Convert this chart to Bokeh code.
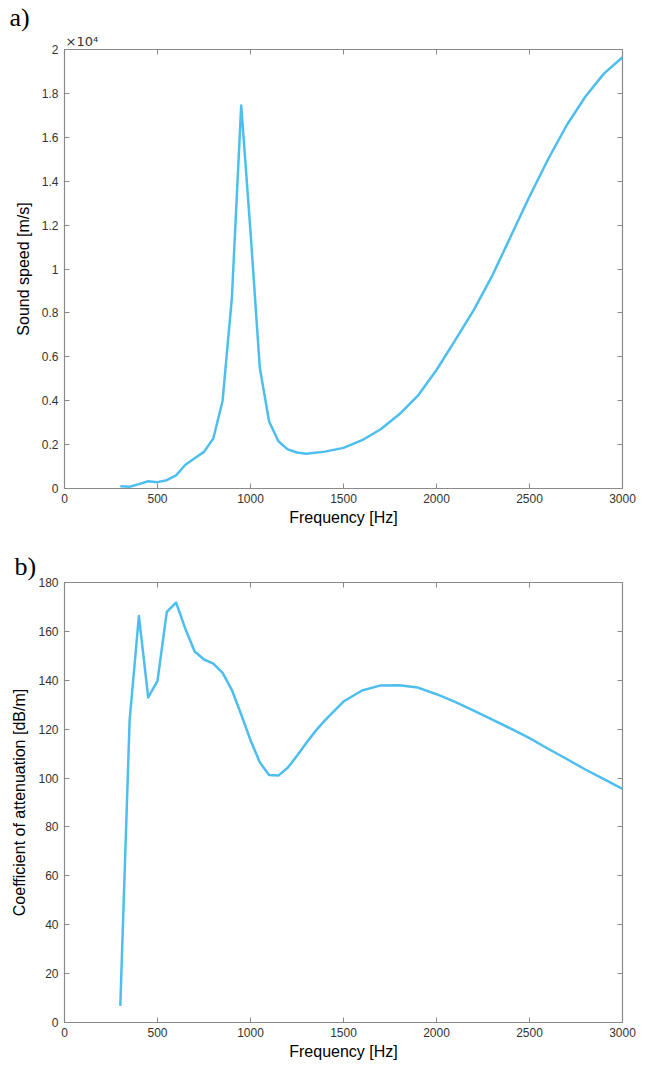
from bokeh.plotting import figure
from bokeh.models import Range1d, LinearAxis, FixedTicker, Title
from bokeh.layouts import column
from bokeh.embed import file_html
from bokeh.resources import INLINE

# ---- data ----
freq_a = [300, 350, 400, 450, 500, 550, 600, 650, 700, 750, 800, 850, 900, 950,
          1000, 1050, 1100, 1150, 1200, 1250, 1300, 1400, 1500, 1600, 1700, 1800,
          1900, 2000, 2100, 2200, 2300, 2400, 2500, 2600, 2700, 2800, 2900, 3000]
speed_a = [100, 80, 200, 330, 290, 380, 600, 1080, 1380, 1670, 2280, 4000, 8700, 17450,
           11700, 5500, 3050, 2150, 1780, 1640, 1580, 1680, 1850, 2200, 2700, 3380,
           4230, 5400, 6750, 8130, 9700, 11500, 13300, 15000, 16550, 17850, 18900, 19650]

freq_b = [300, 350, 400, 450, 500, 550, 600, 650, 700, 750, 800, 850, 900, 950,
          1000, 1050, 1100, 1150, 1200, 1250, 1300, 1350, 1400, 1500, 1600, 1700, 1800,
          1900, 2000, 2100, 2200, 2300, 2400, 2500, 2600, 2700, 2800, 2900, 3000]
atten_b = [6.8, 123.5, 166.3, 133, 139.8, 168, 171.8, 161, 151.8, 148.5, 146.8, 143, 136, 126,
           115.5, 106.5, 101.2, 101, 104.2, 109.1, 114.3, 119.3, 123.6, 131.3, 135.8, 137.9, 138,
           137, 134.3, 131.2, 127.6, 123.9, 120.2, 116.3, 112, 107.8, 103.5, 99.6, 95.6]

x_ticks = [0, 500, 1000, 1500, 2000, 2500, 3000]
speed_ticks = [0, 2000, 4000, 6000, 8000, 10000, 12000, 14000, 16000, 18000, 20000]
speed_tick_labels = ["0", "0.2", "0.4", "0.6", "0.8", "1", "1.2", "1.4", "1.6", "1.8", "2"]
atten_ticks = [0, 20, 40, 60, 80, 100, 120, 140, 160, 180]

LINE = "#4DBEEE"
AX = "#8a8a8a"
TXT = "#333333"
FONT = "Liberation Sans"


def style(p, xt, yt, ylabel, overrides=None):
    p.outline_line_color = AX
    p.outline_line_width = 1.2
    p.xgrid.visible = False
    p.ygrid.visible = False
    p.add_layout(LinearAxis(), "above")
    p.add_layout(LinearAxis(), "right")
    for ax in p.xaxis:
        ax.ticker = FixedTicker(ticks=xt)
    for ax in p.yaxis:
        ax.ticker = FixedTicker(ticks=yt)
    for ax in p.axis:
        ax.axis_line_color = None
        ax.major_tick_in = 5
        ax.major_tick_out = 0
        ax.major_tick_line_color = AX
        ax.major_tick_line_width = 1
        ax.minor_tick_line_color = None
        ax.major_label_text_font = FONT
        ax.major_label_text_font_size = "12px"
        ax.major_label_text_color = TXT
        ax.major_label_standoff = 6
    for ax in (p.above[0], p.right[0]):
        ax.major_label_text_font_size = "0px"
        ax.major_label_text_color = None
        ax.major_label_standoff = 0
    xb = p.below[0]
    xb.axis_label = "Frequency [Hz]"
    xb.axis_label_text_font = FONT
    xb.axis_label_text_font_style = "normal"
    xb.axis_label_text_font_size = "16px"
    xb.axis_label_text_color = "#000000"
    xb.axis_label_standoff = 3
    xb.major_label_standoff = 5
    yl = p.left[0]
    yl.axis_label = ylabel
    yl.axis_label_text_font = FONT
    yl.axis_label_text_font_style = "normal"
    yl.axis_label_text_font_size = "16px"
    yl.axis_label_text_color = "#000000"
    yl.axis_label_standoff = 7
    if overrides:
        yl.major_label_overrides = overrides


p1 = figure(width=651, height=543, output_backend="svg", toolbar_location=None,
            x_range=Range1d(0, 3000), y_range=Range1d(0, 20000),
            min_border_left=64, min_border_right=29, min_border_top=49, min_border_bottom=55)
p1.line(freq_a, speed_a, line_color=LINE, line_width=2.5, line_join="round")
style(p1, x_ticks, speed_ticks, "Sound speed [m/s]",
      {t: s for t, s in zip(speed_ticks, speed_tick_labels)})
p1.add_layout(Title(text="×10⁴", align="left", offset=1, standoff=1,
                    text_font="DejaVu Sans", text_font_size="13px", text_color=TXT,
                    text_font_style="normal"), "above")
p1.add_layout(Title(text="a)", align="left", offset=-55, standoff=0,
                    text_font="Liberation Serif", text_font_size="26px", text_color="#000000",
                    text_font_style="normal"), "above")

p2 = figure(width=651, height=524, output_backend="svg", toolbar_location=None,
            x_range=Range1d(0, 3000), y_range=Range1d(0, 180),
            min_border_left=62, min_border_right=29, min_border_top=39, min_border_bottom=45)
p2.line(freq_b, atten_b, line_color=LINE, line_width=2.5, line_join="round")
style(p2, x_ticks, atten_ticks, "Coefficient of attenuation [dB/m]")
p2.add_layout(Title(text="b)", align="left", offset=-50, standoff=4,
                    text_font="Liberation Serif", text_font_size="26px", text_color="#000000",
                    text_font_style="normal"), "above")

layout = column(p1, p2, spacing=0)
open("out.html", "w").write(file_html(layout, INLINE))
